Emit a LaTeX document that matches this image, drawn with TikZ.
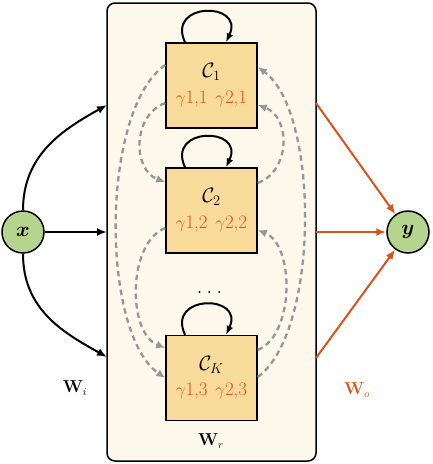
\documentclass[tikz,border=0pt]{standalone}
\usepackage{amsmath,bm}
\usetikzlibrary{arrows.meta}
\definecolor{myorange}{RGB}{217,83,25}
\definecolor{framefill}{RGB}{252,248,236}
\definecolor{cellfill}{RGB}{248,218,154}
\definecolor{iofill}{RGB}{181,212,142}
\definecolor{dashgray}{RGB}{150,150,150}
\newcommand{\bigsz}{\fontsize{19}{22}\selectfont}
\newcommand{\csz}{\fontsize{21}{24}\selectfont}
\newcommand{\midsz}{\fontsize{16}{19}\selectfont}
\newcommand{\dotsz}{\fontsize{24}{28}\selectfont}
\tikzset{
 frame/.style={draw, line width=1.5pt, rounded corners=8pt, fill=framefill, minimum width=209pt, minimum height=458pt, inner sep=0pt},
 cell/.style={draw, line width=1.5pt, fill=cellfill, minimum width=91pt, minimum height=85pt, inner sep=0pt},
 io/.style={circle, draw, line width=1.5pt, fill=iofill, minimum size=42pt, inner sep=0pt, font=\csz},
 inarrow/.style={line width=2pt, -{Latex[length=10pt,width=8pt]}},
 outarrow/.style={line width=2pt, draw=myorange, -{Latex[length=10pt,width=8pt]}, myorange},
 rec/.style={line width=2.3pt, draw=dashgray, dash pattern=on 5.5pt off 4pt, -{Latex[length=9pt,width=8pt]}, dashgray},
 selfloop/.style={line width=2pt, -{Latex[length=9pt,width=7pt]}},
 clab/.style={font=\csz, inner sep=0pt},
 glab/.style={font=\bigsz, text=myorange, inner sep=0pt},
 wlab/.style={font=\midsz, inner sep=0pt},
}
\begin{document}
\begin{tikzpicture}[x=1pt,y=-1pt]
\useasboundingbox (0,0) rectangle (432,464);
\node[frame] (frame) at (211.5,232) {};
\node[cell] (c1) at (211.5,85.5) {};
\node[cell] (c2) at (211.5,210.5) {};
\node[cell] (ck) at (211.5,378) {};
\node[clab] (c1l) at (211.5,72) {$\mathcal{C}_1$};
\node[clab] (c2l) at (211.5,197) {$\mathcal{C}_2$};
\node[clab] (ckl) at (211.5,364.5) {$\mathcal{C}_K$};
\node[glab] (c1g) at (211.5,99) {$\gamma$1,1\hspace{0.4em}$\gamma$2,1};
\node[glab] (c2g) at (211.5,224) {$\gamma$1,2\hspace{0.4em}$\gamma$2,2};
\node[glab] (ckg) at (211.5,391.5) {$\gamma$1,3\hspace{0.4em}$\gamma$2,3};
\node[font=\dotsz, inner sep=0pt] (dots) at (209.5,293) {.\kern3.8pt.\kern3.8pt.};
\node[io] (x) at (23,232) {$\bm{x}$};
\node[io] (y) at (408,232) {$\bm{y}$};
% self loops
\draw[selfloop] ([xshift=-26.5pt]c1.north) .. controls +(115:45pt) and +(65:45pt) .. ([xshift=14.5pt]c1.north);
\draw[selfloop] ([xshift=-26.5pt]c2.north) .. controls +(115:45pt) and +(65:45pt) .. ([xshift=14.5pt]c2.north);
\draw[selfloop] ([xshift=-26.5pt]ck.north) .. controls +(115:45pt) and +(65:45pt) .. ([xshift=14.5pt]ck.north);
% recurrent dashed connections
\draw[rec] ([yshift=20.5pt]c1.west) .. controls +(-65pt,-45pt) and +(-65pt,45pt) .. (ck.west);
\draw[rec] ([yshift=-17.5pt]c1.west) .. controls +(-33pt,-12pt) and +(-33pt,12pt) .. ([yshift=28.5pt]c2.west);
\draw[rec] ([yshift=-17.5pt]c2.west) .. controls +(-38pt,-15pt) and +(-38pt,15pt) .. ([yshift=30pt]ck.west);
\draw[rec] ([yshift=27.5pt]c2.east) .. controls +(33pt,12pt) and +(33pt,-12pt) .. ([yshift=-19.5pt]c1.east);
\draw[rec] ([yshift=28pt]ck.east) .. controls +(37pt,15pt) and +(37pt,-15pt) .. ([yshift=-19.5pt]c2.east);
\draw[rec] ([yshift=1pt]ck.east) .. controls +(62pt,45pt) and +(62pt,-45pt) .. ([yshift=18.5pt]c1.east);
% input
\coordinate (i1) at (107,105);
\coordinate (i2) at (107,232);
\coordinate (i3) at (107,357);
\draw[inarrow] (x.north) .. controls +(0pt,55pt) and +(-45pt,-25pt) .. (i1);
\draw[inarrow] (x) -- (i2);
\draw[inarrow] (x.south) .. controls +(0pt,-55pt) and +(-45pt,25pt) .. (i3);
% output
\coordinate (o1) at (316,103);
\coordinate (o2) at (316,232);
\coordinate (o3) at (316,358);
\draw[outarrow] (o1) -- (y);
\draw[outarrow] (o2) -- (y);
\draw[outarrow] (o3) -- (y);
% labels
\node[wlab] (wi) at (75,388) {$\mathbf{W}_i$};
\node[wlab, text=myorange] (wo) at (357,390) {$\mathbf{W}_o$};
\node[wlab] (wr) at (211,441) {$\mathbf{W}_r$};
\end{tikzpicture}
\end{document}
